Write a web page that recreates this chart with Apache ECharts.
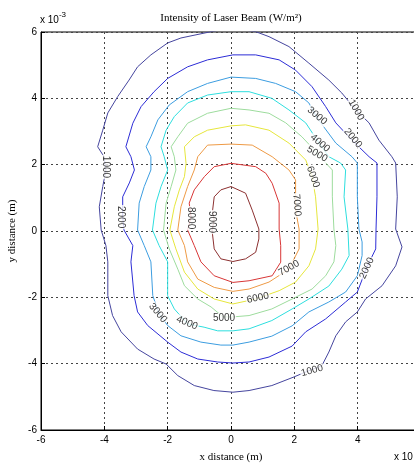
<!DOCTYPE html>
<html>
<head>
<meta charset="utf-8">
<script src="https://cdn.jsdelivr.net/npm/echarts@6/dist/echarts.min.js"></script>
<style>
  html, body { margin: 0; padding: 0; background: #fff; }
  #chart { width: 414px; height: 464px; }
</style>
</head>
<body>
<div id="chart"></div>
<script>
// contour levels (W/m^2) and their traced outlines, in units of 1e-3 m
var levels = [1000, 2000, 3000, 4000, 5000, 6000, 7000, 8000, 9000];

var c1000 = [[0,6.12],[-0.63,6.01],[-1.58,5.82],[-2.0,5.67],[-2.53,5.31],[-2.95,4.95],[-3.22,4.55],[-3.58,4.05],
  [-3.89,3.56],[-4.05,3.04],[-4.21,2.54],[-4.01,2.24],[-3.95,1.84],[-4.05,1.34],[-4.16,0.73],[-4.10,0.03],
  [-3.95,-0.44],[-3.89,-0.93],[-3.89,-1.95],[-3.74,-2.55],[-3.47,-3.04],[-2.95,-3.56],[-2.43,-3.86],[-2.05,-4.01],
  [-1.68,-4.36],[-1.16,-4.66],[-0.54,-4.81],[0.06,-4.86],[0.57,-4.81],[1.29,-4.66],[1.99,-4.40],[2.36,-4.25],
  [2.87,-4.06],[3.09,-3.65],[3.31,-3.16],[3.62,-2.74],[3.99,-2.44],[4.25,-2.05],[4.77,-1.65],[5.20,-1.05],
  [5.40,-0.48],[5.20,0.06],[5.25,1.03],[5.20,2.05],[5.08,2.24],[4.67,2.74],[4.36,3.26],[3.94,3.65],[3.50,4.16],
  [3.09,4.55],[2.46,5.06],[1.83,5.56],[1.20,5.86],[0.78,6.01],[0,6.12]];

var c2000 = [[0.06,5.31],[-0.74,5.16],[-1.37,4.95],[-2.0,4.60],[-2.43,4.20],[-2.84,3.75],[-3.10,3.25],[-3.32,2.54],
  [-3.16,2.24],[-3.05,1.84],[-3.21,1.45],[-3.42,1.03],[-3.42,0.43],[-3.38,0.03],[-3.10,-0.44],[-3.16,-0.93],
  [-3.06,-1.95],[-2.95,-2.44],[-2.63,-2.85],[-2.0,-3.35],[-1.58,-3.65],[-1.05,-3.86],[-0.42,-3.95],[0.06,-3.98],
  [0.57,-3.95],[1.20,-3.80],[1.93,-3.47],[2.36,-3.04],[2.99,-2.65],[3.62,-2.14],[3.99,-1.84],[4.29,-1.09],
  [4.57,-0.54],[4.58,0.06],[4.61,1.03],[4.61,2.05],[4.36,2.24],[3.82,2.74],[3.31,3.26],[2.99,3.75],[2.56,4.35],
  [2.04,4.85],[1.52,5.16],[0.78,5.31],[0.06,5.31]];

var c3000 = [[0,4.64],[-0.74,4.45],[-1.37,4.20],[-1.95,3.80],[-2.31,3.35],[-2.53,2.84],[-2.68,2.54],[-2.53,2.24],
  [-2.53,1.84],[-2.74,1.34],[-2.90,0.84],[-2.95,0.03],[-2.74,-0.44],[-2.53,-0.93],[-2.47,-1.95],[-2.27,-2.50],
  [-2.0,-2.85],[-1.58,-3.16],[-0.95,-3.35],[-0.32,-3.44],[0.06,-3.44],[0.57,-3.35],[1.29,-3.17],[1.93,-2.86],
  [2.46,-2.44],[3.09,-2.14],[3.62,-1.84],[3.99,-1.35],[4.14,-0.74],[4.14,-0.33],[4.04,0.06],[3.99,1.03],
  [3.99,2.05],[3.82,2.24],[3.31,2.65],[2.72,3.41],[2.46,3.86],[2.04,4.20],[1.41,4.45],[0.78,4.60],[0,4.64]];

var c4000 = [[0,4.20],[-0.74,4.10],[-1.37,3.86],[-1.79,3.45],[-2.05,3.04],[-2.21,2.54],[-2.11,2.24],[-2.0,1.84],
  [-2.21,1.34],[-2.37,0.84],[-2.48,0.03],[-2.27,-0.44],[-2.0,-0.93],[-2.0,-1.95],[-1.79,-2.35],[-1.37,-2.80],
  [-0.85,-2.90],[-0.42,-3.01],[0.06,-3.01],[0.57,-2.95],[1.29,-2.70],[1.93,-2.35],[2.46,-2.05],[3.09,-1.66],
  [3.50,-1.15],[3.73,-0.74],[3.69,0.06],[3.57,1.03],[3.62,1.84],[3.46,2.05],[3.09,2.24],[2.78,2.65],[2.36,3.26],
  [1.83,3.65],[1.29,4.0],[0.57,4.20],[0,4.20]];

var c5000 = [[0,3.70],[-0.74,3.55],[-1.37,3.25],[-1.68,2.84],[-1.89,2.54],[-1.79,2.24],[-1.74,1.84],[-1.89,1.34],
  [-2.05,0.84],[-2.13,0.03],[-1.95,-0.54],[-1.68,-1.15],[-1.47,-1.65],[-1.05,-2.05],[-0.63,-2.29],[-0.25,-2.59],
  [0.06,-2.59],[0.57,-2.55],[1.29,-2.35],[1.93,-2.05],[2.56,-1.75],[2.99,-1.35],[3.25,-0.93],[3.31,-0.44],
  [3.25,0.06],[3.20,1.03],[3.20,1.84],[2.99,2.05],[2.78,2.29],[2.24,2.84],[1.73,3.26],[1.20,3.55],[0.57,3.65],[0,3.70]];

var c6000 = [[0,3.17],[-0.74,3.04],[-1.16,2.84],[-1.47,2.54],[-1.42,2.04],[-1.47,1.64],[-1.63,1.24],[-1.79,0.73],
  [-1.93,0.03],[-1.74,-0.54],[-1.47,-1.24],[-1.05,-1.75],[-0.53,-2.05],[0.06,-2.20],[0.78,-2.05],[1.52,-1.80],
  [2.04,-1.54],[2.46,-1.05],[2.67,-0.54],[2.75,0.06],[2.67,1.03],[2.56,1.64],[2.36,2.14],[1.83,2.65],[1.20,3.04],
  [0.46,3.20],[0,3.17]];

var c7000 = [[0,2.62],[-0.74,2.59],[-1.05,2.24],[-1.16,1.84],[-1.37,1.34],[-1.58,0.73],[-1.68,0.03],[-1.47,-0.44],
  [-1.37,-0.93],[-1.05,-1.45],[-0.53,-1.70],[0.06,-1.82],[0.57,-1.75],[1.20,-1.54],[1.83,-1.15],[2.15,-0.54],
  [2.15,0.06],[2.04,0.63],[2.04,1.54],[1.83,1.84],[1.30,2.24],[0.67,2.59],[0,2.62]];

var c8000 = [[0,2.04],[-0.53,1.94],[-0.84,1.64],[-1.16,1.24],[-1.32,0.84],[-1.26,0.43],[-1.37,0.03],[-1.16,-0.44],
  [-0.95,-0.93],[-0.53,-1.35],[0.06,-1.55],[0.57,-1.50],[1.30,-1.35],[1.57,-0.94],[1.57,-0.44],[1.52,0.06],
  [1.52,0.84],[1.30,1.44],[1.10,1.74],[0.78,1.94],[0,2.04]];

var c9000 = [[0,1.34],[-0.32,1.24],[-0.53,1.03],[-0.58,0.63],[-0.53,0.33],[-0.60,0.03],[-0.53,-0.54],[-0.32,-0.84],
  [0.06,-0.92],[0.46,-0.84],[0.78,-0.64],[0.88,-0.24],[0.88,0.06],[0.67,0.63],[0.46,1.14],[0,1.34]];

var contours = [c1000, c2000, c3000, c4000, c5000, c6000, c7000, c8000, c9000];

// inline contour labels
var labelText = ['1000','1000','1000','2000','2000','2000','3000','3000','4000','4000',
                 '5000','5000','6000','6000','7000','7000','8000','9000'];
var labelX = [-3.95, 3.95, 2.56, -3.47, 3.85, 4.29, 2.72, -2.31, 2.81, -1.39,
              2.72, -0.22, 2.59, 0.85, 2.08, 1.83, -1.26, -0.60];
var labelY = [1.93, 3.65, -4.21, 0.42, 2.80, -1.12, 3.47, -2.47, 2.65, -2.77,
              2.32, -2.62, 1.63, -2.02, 0.78, -1.12, 0.39, 0.27];
var labelAngle = [-90, -60, 15, -90, -50, 65, -40, -50, -40, -22,
                  -30, 0, -70, 12, -85, 30, -90, -90];

var xTicks = [-6, 6, 2];
var yTicks = [-6, 6, 2];

var levelColors = ['#45459e', '#2c2cd6', '#3c9de0', '#2ddede', '#9ddc9d',
                   '#e6e63c', '#ee9a45', '#d83636', '#8c3030'];

var chart = echarts.init(document.getElementById('chart'));

var series = contours.map(function (pts, i) {
  return {
    name: String(levels[i]),
    type: 'line',
    data: pts,
    symbol: 'none',
    smooth: false,
    clip: true,
    lineStyle: { color: levelColors[i], width: 1 },
    z: 2
  };
});

series.push({
  type: 'scatter',
  symbolSize: 0,
  z: 5,
  data: labelText.map(function (t, i) {
    return { name: t, value: [labelX[i], labelY[i]], label: { rotate: labelAngle[i] } };
  }),
  label: {
    show: true,
    position: 'inside',
    formatter: function (p) { return p.name; },
    fontFamily: 'Liberation Sans',
    fontSize: 10,
    color: '#000',
    backgroundColor: '#fff',
    padding: [0, 1]
  }
});

var gridLine = { show: true, lineStyle: { color: '#444', type: [2, 3], width: 1 } };

var option = {
  animation: false,
  grid: { left: 41, top: 32, width: 380, height: 398, outerBoundsMode: 'none', containLabel: false,
          show: true, borderColor: '#000', borderWidth: 1 },
  xAxis: {
    type: 'value', min: xTicks[0], max: xTicks[1], interval: xTicks[2],
    name: 'x distance (m)', nameLocation: 'middle', nameGap: 22,
    nameTextStyle: { fontFamily: 'Liberation Serif', fontSize: 11, color: '#000' },
    axisLine: { onZero: false, lineStyle: { color: '#000' } },
    axisTick: { inside: true, length: 4, lineStyle: { color: '#000' } },
    axisLabel: { fontFamily: 'Liberation Sans', fontSize: 10, color: '#000', margin: 5 },
    splitLine: gridLine
  },
  yAxis: {
    type: 'value', min: yTicks[0], max: yTicks[1], interval: yTicks[2],
    name: 'y distance (m)', nameLocation: 'middle', nameGap: 23,
    nameTextStyle: { fontFamily: 'Liberation Serif', fontSize: 11, color: '#000' },
    axisLine: { onZero: false, lineStyle: { color: '#000' } },
    axisTick: { inside: true, length: 4, lineStyle: { color: '#000' } },
    axisLabel: { fontFamily: 'Liberation Sans', fontSize: 10, color: '#000', margin: 4 },
    splitLine: gridLine
  },
  graphic: [
    { type: 'text', x: 231, y: 18,
      style: { text: 'Intensity of Laser Beam (W/m²)', font: '11px "Liberation Serif"', fill: '#000',
               align: 'center', verticalAlign: 'middle' } },
    { type: 'text', x: 40, y: 11,
      style: { text: '{a|x 10}{b|-3}', fill: '#000', verticalAlign: 'top',
               rich: { a: { fontFamily: 'Liberation Sans', fontSize: 10, padding: [4, 0, 0, 0] },
                       b: { fontFamily: 'Liberation Sans', fontSize: 8, verticalAlign: 'top' } } } },
    { type: 'text', x: 394, y: 452,
      style: { text: 'x 10', font: '10px "Liberation Sans"', fill: '#000' } }
  ],
  series: series
};

chart.setOption(option);
window.addEventListener('resize', chart.resize);
</script>
</body>
</html>
